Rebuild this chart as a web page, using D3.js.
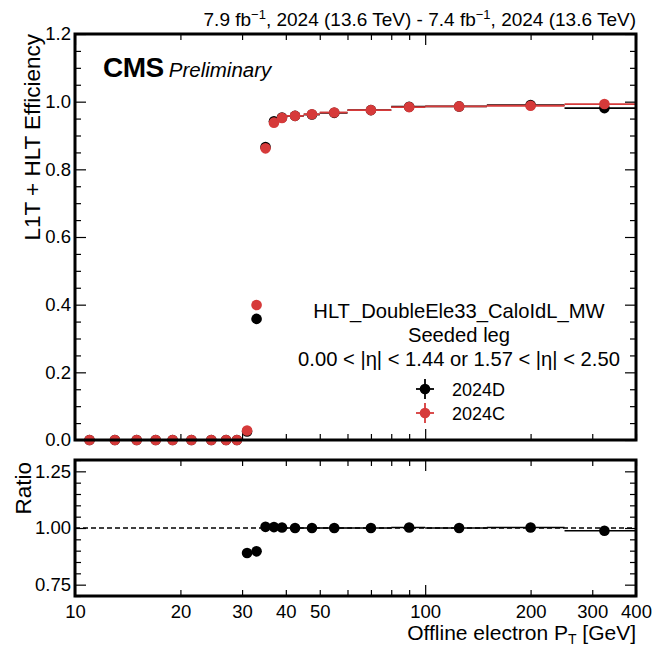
<!DOCTYPE html>
<html>
<head>
<meta charset="utf-8">
<script src="https://cdn.jsdelivr.net/npm/d3@7"></script>
<style>
  html, body { margin: 0; padding: 0; background: #fff; }
  svg { display: block; font-family: "Liberation Sans", Arial, Helvetica, sans-serif; }
</style>
</head>
<body>
<svg id="chart" width="652" height="649"></svg>
<script>
// Offline electron pT bin edges [GeV]
const binEdges = [10, 12, 14, 16, 18, 20, 23, 26, 28, 30, 32, 34, 36, 38, 40, 45, 50, 60, 80, 100, 150, 250, 400];
// L1T + HLT efficiency per bin, 2024C (red) and 2024D (black)
const eff2024C = [0, 0, 0, 0, 0, 0, 0, 0, 0, 0.028, 0.399, 0.862, 0.938, 0.952, 0.958, 0.963, 0.968, 0.975, 0.984, 0.986, 0.988, 0.993];
const eff2024D = [0, 0, 0, 0, 0, 0, 0, 0, 0, 0.025, 0.358, 0.866, 0.942, 0.953, 0.958, 0.962, 0.967, 0.975, 0.985, 0.986, 0.990, 0.981];
const err2024C = [0, 0, 0, 0, 0, 0, 0, 0, 0, 0.004, 0.010, 0.006, 0.004, 0.003, 0.002, 0.002, 0.002, 0.002, 0.002, 0.002, 0.003, 0.005];
const err2024D = [0, 0, 0, 0, 0, 0, 0, 0, 0, 0.004, 0.010, 0.006, 0.004, 0.003, 0.002, 0.002, 0.002, 0.002, 0.002, 0.002, 0.003, 0.006];
// Ratio 2024D / 2024C (undefined where the denominator is zero)
const ratioDC = [null, null, null, null, null, null, null, null, null, 0.890, 0.897, 1.005, 1.004, 1.002, 1.000, 1.000, 1.000, 1.000, 1.002, 1.000, 1.002, 0.988];
const ratioErr = [0, 0, 0, 0, 0, 0, 0, 0, 0, 0.010, 0.008, 0.004, 0.003, 0.002, 0.002, 0.002, 0.002, 0.002, 0.002, 0.002, 0.003, 0.006];

const xTickLabels = [10, 20, 30, 40, 50, 100, 200, 300, 400];
const xMajor = [10, 100];
const xMinor = [20, 30, 40, 50, 60, 70, 80, 90, 200, 300, 400];
const yMainMajor = [0, 0.2, 0.4, 0.6, 0.8, 1.0, 1.2];
const yRatioMajor = [0.75, 1.0, 1.25];

const series = [
  { name: "2024D", eff: eff2024D, err: err2024D, color: "#000000" },
  { name: "2024C", eff: eff2024C, err: err2024C, color: "#d63a3a" }
];

const FONT = '"Liberation Sans", Arial, Helvetica, sans-serif';
const TICK_FS = 18.5;
const svg = d3.select("#chart");

const L = 75, R = 636;
const mainTop = 34, mainBot = 440;
const ratTop = 460, ratBot = 596;

const x = d3.scaleLog().domain([10, 400]).range([L, R]);
const yMain = d3.scaleLinear().domain([0, 1.2]).range([mainBot, mainTop]);
const yRat = d3.scaleLinear().domain([0.7, 1.3]).range([ratBot, ratTop]);

const bins = binEdges.slice(0, -1).map((lo, i) => ({ lo, hi: binEdges[i + 1], c: (lo + binEdges[i + 1]) / 2, i }));

function range(a, b, s) { const o = []; for (let v = a; v <= b + 1e-9; v += s) o.push(+v.toFixed(4)); return o; }

// Inward ticks on all four sides of a panel
function frameTicks(g, y, top, bot, yMaj, yMin) {
  const noLab = () => "";
  const defs = [
    [d3.axisBottom(x).tickValues(xMajor).tickSize(-11), bot],
    [d3.axisBottom(x).tickValues(xMinor).tickSize(-6), bot],
    [d3.axisTop(x).tickValues(xMajor).tickSize(-11), top],
    [d3.axisTop(x).tickValues(xMinor).tickSize(-6), top]
  ];
  defs.forEach(([ax, ty]) => {
    g.append("g").attr("transform", `translate(0,${ty})`).call(ax.tickFormat(noLab))
      .call(s => { s.select(".domain").remove(); s.selectAll("line").attr("stroke", "#000").attr("stroke-width", 1.2); });
  });
  [[d3.axisLeft(y).tickValues(yMaj).tickSize(-11), L], [d3.axisLeft(y).tickValues(yMin).tickSize(-6), L],
   [d3.axisRight(y).tickValues(yMaj).tickSize(-11), R], [d3.axisRight(y).tickValues(yMin).tickSize(-6), R]]
    .forEach(([ax, tx]) => {
      g.append("g").attr("transform", `translate(${tx},0)`).call(ax.tickFormat(noLab))
        .call(s => { s.select(".domain").remove(); s.selectAll("line").attr("stroke", "#000").attr("stroke-width", 1.2); });
    });
}

// ---------- main panel ----------
const gMain = svg.append("g");
frameTicks(gMain, yMain, mainTop, mainBot, yMainMajor,
  range(0, 1.2, 0.05).filter(v => !yMainMajor.some(m => Math.abs(m - v) < 1e-6)));

gMain.append("g").attr("transform", `translate(${L},0)`)
  .call(d3.axisLeft(yMain).tickValues(yMainMajor).tickSize(0).tickPadding(4).tickFormat(d3.format(".1f")))
  .call(s => { s.select(".domain").remove(); s.selectAll("text").attr("font-size", TICK_FS).attr("font-family", FONT).attr("fill", "#000"); });

series.forEach(s => {
  const g = gMain.append("g");
  bins.forEach(b => {
    const v = s.eff[b.i], e = s.err[b.i];
    g.append("line").attr("x1", x(b.lo)).attr("x2", x(b.hi)).attr("y1", yMain(v)).attr("y2", yMain(v))
      .attr("stroke", s.color).attr("stroke-width", 1.8);
    if (e > 0) g.append("line").attr("x1", x(b.c)).attr("x2", x(b.c)).attr("y1", yMain(v - e)).attr("y2", yMain(v + e))
      .attr("stroke", s.color).attr("stroke-width", 1.8);
  });
  g.selectAll("circle").data(bins).join("circle")
    .attr("cx", b => x(b.c)).attr("cy", b => yMain(s.eff[b.i])).attr("r", 5.3).attr("fill", s.color);
});

// ---------- ratio panel ----------
const gRat = svg.append("g");
frameTicks(gRat, yRat, ratTop, ratBot, yRatioMajor,
  range(0.7, 1.3, 0.05).filter(v => !yRatioMajor.some(m => Math.abs(m - v) < 1e-6)));

gRat.append("g").attr("transform", `translate(${L},0)`)
  .call(d3.axisLeft(yRat).tickValues(yRatioMajor).tickSize(0).tickPadding(4).tickFormat(d3.format(".2f")))
  .call(s => { s.select(".domain").remove(); s.selectAll("text").attr("font-size", TICK_FS).attr("font-family", FONT).attr("fill", "#000"); });

gRat.append("line").attr("x1", L).attr("x2", R).attr("y1", yRat(1)).attr("y2", yRat(1))
  .attr("stroke", "#000").attr("stroke-width", 1.4).attr("stroke-dasharray", "5,3");

const ratBins = bins.filter(b => ratioDC[b.i] !== null);
ratBins.forEach(b => {
  const v = ratioDC[b.i], e = ratioErr[b.i];
  gRat.append("line").attr("x1", x(b.lo)).attr("x2", x(b.hi)).attr("y1", yRat(v)).attr("y2", yRat(v))
    .attr("stroke", "#000").attr("stroke-width", 1.6);
  gRat.append("line").attr("x1", x(b.c)).attr("x2", x(b.c)).attr("y1", yRat(v - e)).attr("y2", yRat(v + e))
    .attr("stroke", "#000").attr("stroke-width", 1.6);
});
gRat.selectAll("circle").data(ratBins).join("circle")
  .attr("cx", b => x(b.c)).attr("cy", b => yRat(ratioDC[b.i])).attr("r", 5.3).attr("fill", "#000");

gRat.append("g").attr("transform", `translate(0,${ratBot})`)
  .call(d3.axisBottom(x).tickValues(xTickLabels).tickSize(0).tickPadding(9).tickFormat(d3.format("d")))
  .call(s => { s.select(".domain").remove(); s.selectAll("text").attr("font-size", TICK_FS).attr("font-family", FONT).attr("fill", "#000"); });

// frames
[[mainTop, mainBot], [ratTop, ratBot]].forEach(([t, b]) => {
  svg.append("rect").attr("x", L).attr("y", t).attr("width", R - L).attr("height", b - t)
    .attr("fill", "none").attr("stroke", "#000").attr("stroke-width", 3);
});

// ---------- texts ----------
const hdr = svg.append("text").attr("x", R).attr("y", 26).attr("text-anchor", "end")
  .attr("font-size", 19).attr("font-family", FONT);
hdr.append("tspan").text("7.9 fb");
hdr.append("tspan").attr("dy", -7).attr("font-size", 13).text("\u22121");
hdr.append("tspan").attr("dy", 7).text(", 2024 (13.6 TeV) - 7.4 fb");
hdr.append("tspan").attr("dy", -7).attr("font-size", 13).text("\u22121");
hdr.append("tspan").attr("dy", 7).text(", 2024 (13.6 TeV)");

const cms = svg.append("text").attr("x", 103).attr("y", 77).attr("font-family", FONT);
cms.append("tspan").attr("font-weight", "bold").attr("font-size", 28).attr("letter-spacing", -0.5).text("CMS");
cms.append("tspan").attr("dx", 5).attr("font-style", "italic").attr("font-size", 20.5).text("Preliminary");

svg.append("text").attr("transform", `translate(40,${mainTop}) rotate(-90)`).attr("text-anchor", "end")
  .attr("font-size", 22.5).attr("font-family", FONT).text("L1T + HLT Efficiency");
svg.append("text").attr("transform", `translate(31,${ratTop + 2}) rotate(-90)`).attr("text-anchor", "end")
  .attr("font-size", 22.5).attr("font-family", FONT).text("Ratio");

const xl = svg.append("text").attr("x", R).attr("y", 640).attr("text-anchor", "end")
  .attr("font-size", 21).attr("font-family", FONT);
xl.append("tspan").text("Offline electron P");
xl.append("tspan").attr("dy", 4).attr("font-size", 14).text("T");
xl.append("tspan").attr("dy", -4).text(" [GeV]");

// legend
const legCx = 459;
["HLT_DoubleEle33_CaloIdL_MW", "Seeded leg", "0.00 < |\u03b7| < 1.44 or 1.57 < |\u03b7| < 2.50"].forEach((t, k) => {
  svg.append("text").attr("x", legCx).attr("y", 318 + k * 24).attr("text-anchor", "middle")
    .attr("font-size", 20.2).attr("font-family", FONT).text(t);
});
series.forEach((s, k) => {
  const cy = 389 + k * 24, mx = 425;
  svg.append("line").attr("x1", mx - 9).attr("x2", mx + 9).attr("y1", cy).attr("y2", cy).attr("stroke", s.color).attr("stroke-width", 1.8);
  svg.append("line").attr("x1", mx).attr("x2", mx).attr("y1", cy - 10).attr("y2", cy + 10).attr("stroke", s.color).attr("stroke-width", 1.8);
  svg.append("circle").attr("cx", mx).attr("cy", cy).attr("r", 5.3).attr("fill", s.color);
  svg.append("text").attr("x", 452).attr("y", cy + 6.5).attr("font-size", 18).attr("font-family", FONT).text(s.name);
});
</script>
</body>
</html>
